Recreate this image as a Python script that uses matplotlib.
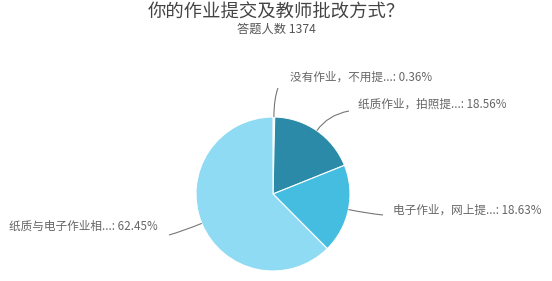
import numpy as np
import matplotlib
matplotlib.use("Agg")
import matplotlib.pyplot as plt
from matplotlib.path import Path
from matplotlib.patches import PathPatch

plt.rcParams["font.family"] = ["Noto Sans CJK SC", "DejaVu Sans"]

# ==========================================================
# Data
# ==========================================================

TITLE = "你的作业提交及教师批改方式？"
SUBTITLE = "答题人数 1374"

labels = [
    "没有作业，不用提...",
    "纸质作业，拍照提...",
    "电子作业，网上提...",
    "纸质与电子作业相...",
]
shares = [0.36, 18.56, 18.63, 62.45]
colors = ["#d9f1fa", "#2a8aa7", "#44bde0", "#8fdbf4"]

# ==========================================================
# Layout (pixel coordinates, y measured from top)
# ==========================================================

W, H = 552, 281
CX, CY, R = 273, 194, 77

# label anchor points and alignment
label_pos = [
    (290, 77, "left"),
    (358, 104, "left"),
    (393, 210, "left"),
    (158, 226, "right"),
]
line_end = [
    (278, 88),
    (349, 111),
    (383, 215),
    (169, 235),
]

fig = plt.figure(figsize=(W / 100, H / 100), dpi=100)
ax = fig.add_axes([0, 0, 1, 1])

wedges, _ = ax.pie(
    shares,
    colors=colors,
    startangle=90,
    counterclock=False,
    center=(CX, H - CY),
    radius=R,
    wedgeprops=dict(edgecolor="white", linewidth=0.8),
    frame=True,
)
ax.set_xlim(0, W)
ax.set_ylim(0, H)
ax.set_aspect("equal")
ax.axis("off")

# connector lines + labels
total = sum(shares)
cum = 0.0
for i, (lab, s) in enumerate(zip(labels, shares)):
    mid = (cum + s / 2) / total * 2 * np.pi
    cum += s
    dx, dy = np.sin(mid), np.cos(mid)
    p0 = (CX + R * dx, H - CY + R * dy)
    p1 = (CX + 1.25 * R * dx, H - CY + 1.25 * R * dy)
    ex, ey = line_end[i]
    p2 = (ex, H - ey)
    path = Path([p0, p1, p2], [Path.MOVETO, Path.CURVE3, Path.CURVE3])
    ax.add_patch(PathPatch(path, fill=False, edgecolor="#777777", linewidth=0.8))

    tx, ty, ha = label_pos[i]
    ax.text(
        tx, H - ty,
        f"{lab}: {s:.2f}%",
        ha=ha, va="center",
        fontsize=8.4,
        color="#666666",
    )

fig.text(0.5, 1 - 13 / H, TITLE, ha="center", va="center",
         fontsize=13.2, color="#444444")
fig.text(0.5, 1 - 29 / H, SUBTITLE, ha="center", va="center",
         fontsize=8.8, color="#555555")

fig.savefig("out.png", dpi=100)
